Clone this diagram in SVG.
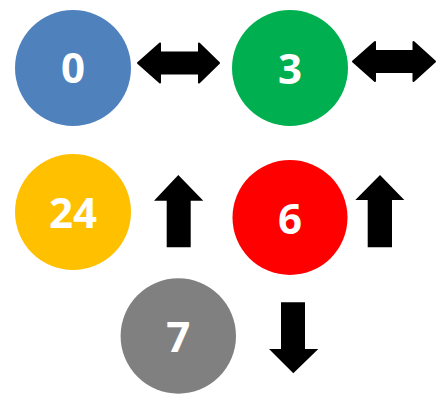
<svg xmlns="http://www.w3.org/2000/svg" width="442" height="404" viewBox="0 0 442 404">
<style>
.lbl{font-family:"Open Sans","Liberation Sans",sans-serif;font-weight:bold;font-size:42px;fill:#fff;text-anchor:middle}
.arr{fill:#000;stroke:#000;stroke-width:2;stroke-linejoin:round}
</style>
<rect width="442" height="404" fill="#fff"/>
<g id="n0"><circle cx="73" cy="68" r="58" fill="#4f81bd"/><text class="lbl" x="73" y="83">0</text></g>
<g id="n3"><circle cx="290" cy="68" r="58" fill="#00b050"/><text class="lbl" x="290" y="84">3</text></g>
<g id="n24"><circle cx="73" cy="212" r="58" fill="#ffc000"/><text class="lbl" x="73" y="228">24</text></g>
<g id="n6"><circle cx="290" cy="217.5" r="57.5" fill="#ff0000"/><text class="lbl" x="290" y="234">6</text></g>
<g id="n7"><circle cx="178.3" cy="336" r="57.7" fill="#808080"/><text class="lbl" x="178.3" y="352">7</text></g>
<g id="connectors">
<path class="arr" d="M138,63 L160,43.5 L160,52.5 L199,52.5 L199,43.5 L219,63 L199,82.5 L199,73.5 L160,73.5 L160,82.5 Z"/>
<path class="arr" d="M353,61.5 L375,42 L375,51 L413.5,51 L413.5,42 L435,61.5 L413.5,81 L413.5,72 L375,72 L375,81 Z"/>
<path d="M178.3,175 L203.3,200.7 L190.7,200.7 L190.7,247.3 L166.7,247.3 L166.7,200.7 L154,200.7 Z" fill="#000"/>
<path d="M380,175 L404.3,200 L392,200 L392,247.3 L367.7,247.3 L367.7,200 L355.3,200 Z" fill="#000"/>
<path d="M281,302.3 L305,302.3 L305,349 L318.3,349 L293.3,373.3 L269,349 L281,349 Z" fill="#000"/>
</g>
</svg>
